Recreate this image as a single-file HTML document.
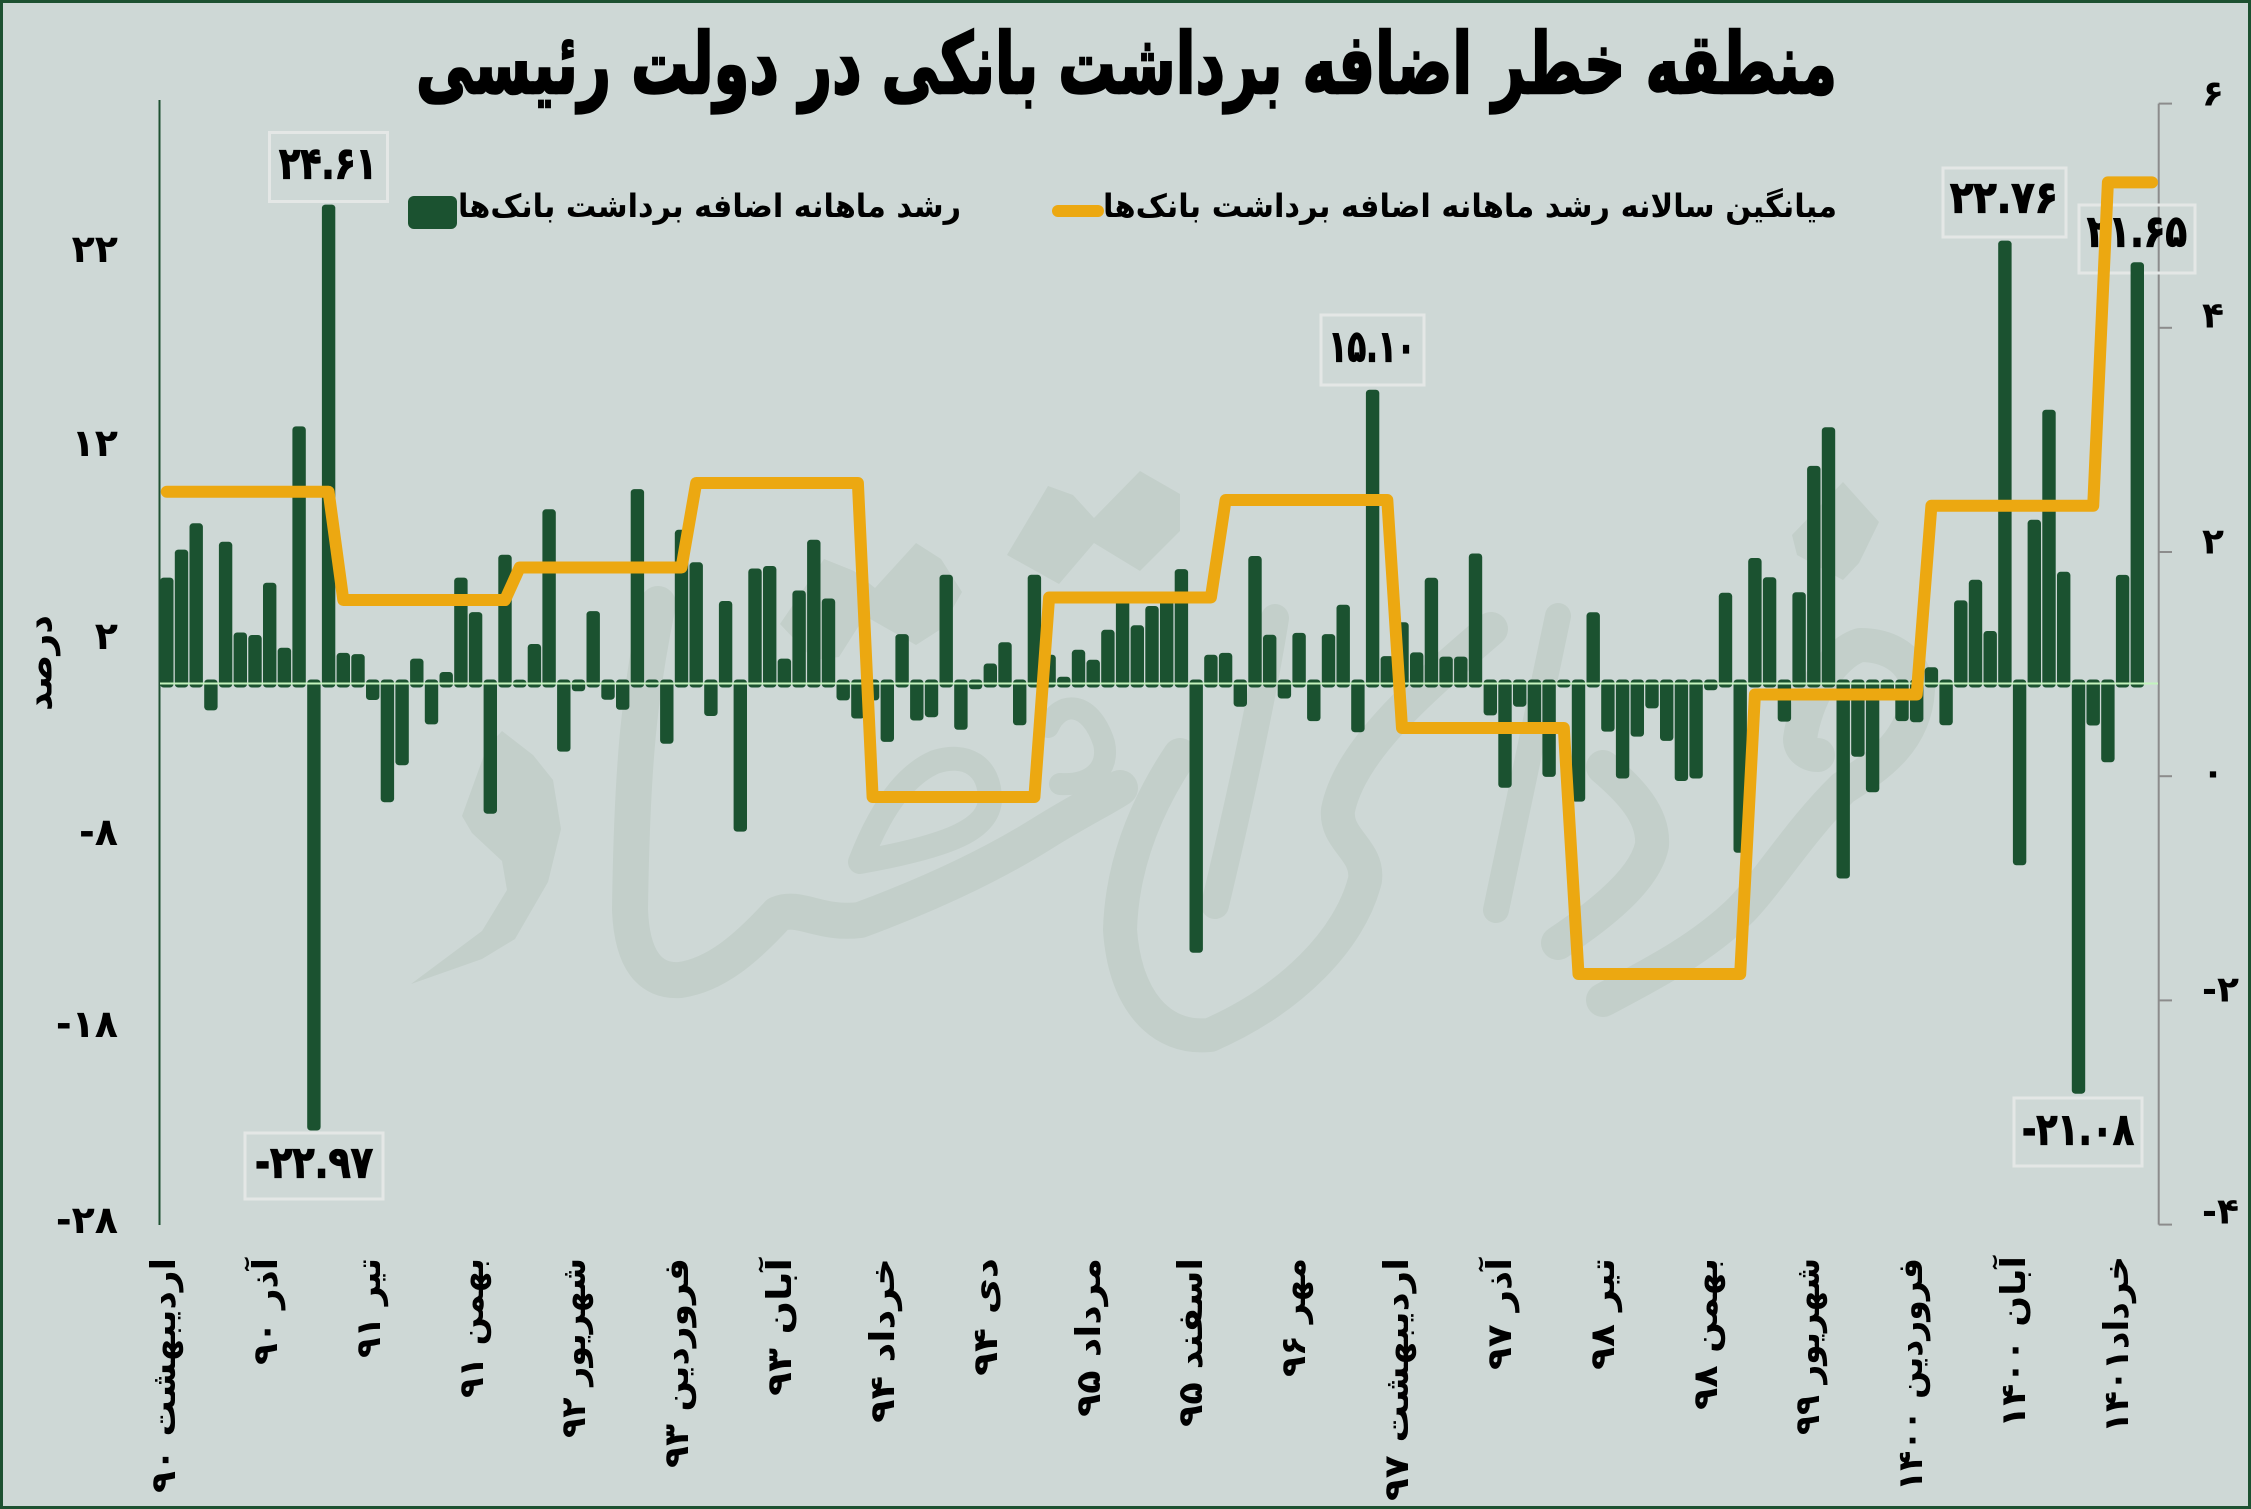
<!DOCTYPE html>
<html><head><meta charset="utf-8"><style>
html,body{margin:0;padding:0;background:#ced8d6;}
svg{display:block;}
text{font-family:"DejaVu Sans","Liberation Sans",sans-serif;font-weight:bold;fill:#000;}
</style></head><body>
<svg width="2251" height="1509" viewBox="0 0 2251 1509" xmlns="http://www.w3.org/2000/svg">
<rect x="0" y="0" width="2251" height="1509" fill="#ced8d6"/>
<!-- watermark -->
<g fill="#c3cfca" stroke="none">
<polygon points="411,984 482,959 515,939 548,882 561,829 553,780 533,755 502,731 487,747 462,816 472,833 502,861 507,890 482,931"/>
<polygon points="1007,555 1048,486 1073,495 1094,518 1140,471 1180,494 1180,531 1140,571 1094,543 1059,584"/>
<polygon points="780,624 824,559 854,571 875,588 916,543 941,559 962,592 941,629 916,645 865,616 839,657 814,660"/>
<polygon points="1792,535 1843,482 1879,522 1859,563 1843,580 1797,555"/>
</g>
<g fill="none" stroke="#c3cfca" stroke-linecap="round" stroke-linejoin="round">
<path d="M658 604 C640 690 632 760 630 910 C632 960 650 982 680 980 C715 975 745 950 778 914 C800 905 820 925 860 920 C941 890 1000 860 1043 833 C1080 810 1105 798 1120 788" stroke-width="36"/>
<path d="M860 862 C880 810 905 775 935 762 C965 752 990 765 990 800 C988 828 955 845 860 862 Z" stroke-width="24"/>
<path d="M1048 727 C1060 700 1090 700 1104 743 C1110 770 1090 786 1060 784" stroke-width="22"/>
<path d="M1491 629 C1420 690 1350 750 1338 810 C1335 840 1369 850 1365 880 C1350 940 1290 1000 1210 1035 C1160 1040 1125 1000 1120 930 C1122 860 1150 800 1180 755" stroke-width="34"/>
<path d="M1275 618 C1262 700 1240 800 1215 905" stroke-width="28"/>
<path d="M1558 616 C1540 700 1520 800 1496 910" stroke-width="26"/>
<path d="M1603 767 C1630 790 1654 815 1652 845 C1645 880 1600 915 1558 943" stroke-width="34"/>
<path d="M1603 1000 C1650 975 1700 950 1741 910 C1770 880 1800 830 1843 788 C1880 765 1915 740 1918 690 C1915 660 1890 645 1860 645 C1830 655 1805 700 1800 739 C1800 750 1810 755 1818 755" stroke-width="34"/>
</g>
<!-- frame -->
<rect x="1.5" y="1.5" width="2248" height="1506" fill="none" stroke="#1d5131" stroke-width="3"/>
<!-- title -->
<text x="1126.5" y="93" font-size="84" text-anchor="middle" textLength="1421" lengthAdjust="spacingAndGlyphs" stroke="#000" stroke-width="2.5">منطقه خطر اضافه برداشت بانکی در دولت رئیسی</text>
<!-- legend -->
<rect x="408" y="196" width="49" height="33" rx="6" fill="#1b5230"/>
<text x="458" y="217" font-size="32" textLength="503" lengthAdjust="spacingAndGlyphs">رشد ماهانه اضافه برداشت بانک‌ها</text>
<line x1="1058" y1="211" x2="1098" y2="211" stroke="#eca811" stroke-width="12" stroke-linecap="round"/>
<text x="1103" y="217" font-size="32" textLength="734" lengthAdjust="spacingAndGlyphs">میانگین سالانه رشد ماهانه اضافه برداشت بانک‌ها</text>
<!-- axes -->
<line x1="159.5" y1="100" x2="159.5" y2="1225" stroke="#1d5131" stroke-width="2"/>
<g stroke="#8c8c8c" stroke-width="2">
<line x1="2158.7" y1="103.6" x2="2158.7" y2="1224.6"/>
<line x1="2158.7" y1="103.6" x2="2172" y2="103.6"/>
<line x1="2158.7" y1="327.8" x2="2172" y2="327.8"/>
<line x1="2158.7" y1="552" x2="2172" y2="552"/>
<line x1="2158.7" y1="776.2" x2="2172" y2="776.2"/>
<line x1="2158.7" y1="1000.4" x2="2172" y2="1000.4"/>
<line x1="2158.7" y1="1224.6" x2="2172" y2="1224.6"/>
</g>
<g font-size="38" text-anchor="end" dominant-baseline="central">
<text x="118" y="249">۲۲</text>
<text x="118" y="443">۱۲</text>
<text x="118" y="636">۲</text>
<text x="118" y="832">-۸</text>
<text x="118" y="1024">-۱۸</text>
<text x="118" y="1220">-۲۸</text>
</g>
<g font-size="36" text-anchor="start" dominant-baseline="central">
<text x="2202" y="94">۶</text>
<text x="2202" y="316">۴</text>
<text x="2202" y="542">۲</text>
<text x="2202" y="773">۰</text>
<text x="2202" y="990">-۲</text>
<text x="2202" y="1212">-۴</text>
</g>
<text transform="translate(40,663) rotate(-90)" font-size="36" text-anchor="middle" dominant-baseline="central" textLength="96" lengthAdjust="spacingAndGlyphs">درصد</text>
<!-- data label boxes -->
<g fill="none" stroke="#e4e7e6" stroke-width="3">
<rect x="269.5" y="132.5" width="118" height="69"/>
<rect x="245" y="1133" width="138" height="66"/>
<rect x="1321" y="315" width="103" height="70"/>
<rect x="1943" y="168" width="123" height="69"/>
<rect x="2079" y="205" width="116" height="68"/>
<rect x="2014" y="1098" width="128" height="68"/>
</g>
<g font-size="44" text-anchor="middle" dominant-baseline="central" stroke="#000" stroke-width="1.2">
<text x="328" y="164" textLength="98" lengthAdjust="spacingAndGlyphs">۲۴.۶۱</text>
<text x="314" y="1163" textLength="118" lengthAdjust="spacingAndGlyphs">-۲۲.۹۷</text>
<text x="1372" y="347" textLength="87" lengthAdjust="spacingAndGlyphs">۱۵.۱۰</text>
<text x="2004" y="198" textLength="108" lengthAdjust="spacingAndGlyphs">۲۲.۷۶</text>
<text x="2137" y="232" textLength="100" lengthAdjust="spacingAndGlyphs">۲۱.۶۵</text>
<text x="2078" y="1130" textLength="112" lengthAdjust="spacingAndGlyphs">-۲۱.۰۸</text>
</g>
<!-- bars -->
<g fill="#1b5230">
<rect x="160.1" y="577.6" width="13.4" height="109.9" rx="3.5"/>
<rect x="174.8" y="549.6" width="13.4" height="137.9" rx="3.5"/>
<rect x="189.5" y="523.3" width="13.4" height="164.2" rx="3.5"/>
<rect x="204.2" y="679.5" width="13.4" height="30.9" rx="3.5"/>
<rect x="218.9" y="541.8" width="13.4" height="145.7" rx="3.5"/>
<rect x="233.6" y="632.5" width="13.4" height="55.0" rx="3.5"/>
<rect x="248.3" y="635.0" width="13.4" height="52.5" rx="3.5"/>
<rect x="263.0" y="582.7" width="13.4" height="104.8" rx="3.5"/>
<rect x="277.7" y="647.7" width="13.4" height="39.8" rx="3.5"/>
<rect x="292.4" y="426.4" width="13.4" height="261.1" rx="3.5"/>
<rect x="307.2" y="679.5" width="13.4" height="451.0" rx="3.5"/>
<rect x="321.9" y="204.6" width="13.4" height="482.9" rx="3.5"/>
<rect x="336.6" y="652.9" width="13.4" height="34.6" rx="3.5"/>
<rect x="351.3" y="654.1" width="13.4" height="33.4" rx="3.5"/>
<rect x="366.0" y="679.5" width="13.4" height="20.5" rx="3.5"/>
<rect x="380.7" y="679.5" width="13.4" height="122.7" rx="3.5"/>
<rect x="395.4" y="679.5" width="13.4" height="85.7" rx="3.5"/>
<rect x="410.1" y="658.6" width="13.4" height="28.9" rx="3.5"/>
<rect x="424.8" y="679.5" width="13.4" height="44.9" rx="3.5"/>
<rect x="439.5" y="672.0" width="13.4" height="15.5" rx="3.5"/>
<rect x="454.2" y="577.6" width="13.4" height="109.9" rx="3.5"/>
<rect x="468.9" y="612.1" width="13.4" height="75.4" rx="3.5"/>
<rect x="483.6" y="679.5" width="13.4" height="134.2" rx="3.5"/>
<rect x="498.3" y="554.7" width="13.4" height="132.8" rx="3.5"/>
<rect x="513.0" y="679.6" width="13.4" height="7.9" rx="3.5"/>
<rect x="527.7" y="644.0" width="13.4" height="43.5" rx="3.5"/>
<rect x="542.4" y="509.3" width="13.4" height="178.2" rx="3.5"/>
<rect x="557.1" y="679.5" width="13.4" height="72.1" rx="3.5"/>
<rect x="571.8" y="679.5" width="13.4" height="11.8" rx="3.5"/>
<rect x="586.5" y="611.1" width="13.4" height="76.4" rx="3.5"/>
<rect x="601.3" y="679.5" width="13.4" height="20.2" rx="3.5"/>
<rect x="616.0" y="679.5" width="13.4" height="30.3" rx="3.5"/>
<rect x="630.7" y="489.1" width="13.4" height="198.4" rx="3.5"/>
<rect x="645.4" y="679.5" width="13.4" height="7.9" rx="3.5"/>
<rect x="660.1" y="679.5" width="13.4" height="64.3" rx="3.5"/>
<rect x="674.8" y="529.8" width="13.4" height="157.7" rx="3.5"/>
<rect x="689.5" y="562.3" width="13.4" height="125.2" rx="3.5"/>
<rect x="704.2" y="679.5" width="13.4" height="36.5" rx="3.5"/>
<rect x="718.9" y="601.0" width="13.4" height="86.5" rx="3.5"/>
<rect x="733.6" y="679.5" width="13.4" height="152.1" rx="3.5"/>
<rect x="748.3" y="568.5" width="13.4" height="119.0" rx="3.5"/>
<rect x="763.0" y="566.0" width="13.4" height="121.5" rx="3.5"/>
<rect x="777.7" y="658.6" width="13.4" height="28.9" rx="3.5"/>
<rect x="792.4" y="590.5" width="13.4" height="97.0" rx="3.5"/>
<rect x="807.1" y="539.7" width="13.4" height="147.8" rx="3.5"/>
<rect x="821.8" y="598.5" width="13.4" height="89.0" rx="3.5"/>
<rect x="836.5" y="679.5" width="13.4" height="20.9" rx="3.5"/>
<rect x="851.2" y="679.5" width="13.4" height="39.0" rx="3.5"/>
<rect x="865.9" y="679.5" width="13.4" height="20.9" rx="3.5"/>
<rect x="880.6" y="679.5" width="13.4" height="62.4" rx="3.5"/>
<rect x="895.4" y="634.1" width="13.4" height="53.4" rx="3.5"/>
<rect x="910.1" y="679.5" width="13.4" height="41.0" rx="3.5"/>
<rect x="924.8" y="679.5" width="13.4" height="37.7" rx="3.5"/>
<rect x="939.5" y="574.7" width="13.4" height="112.8" rx="3.5"/>
<rect x="954.2" y="679.5" width="13.4" height="50.3" rx="3.5"/>
<rect x="968.9" y="679.5" width="13.4" height="9.8" rx="3.5"/>
<rect x="983.6" y="663.5" width="13.4" height="24.0" rx="3.5"/>
<rect x="998.3" y="642.2" width="13.4" height="45.3" rx="3.5"/>
<rect x="1013.0" y="679.5" width="13.4" height="45.8" rx="3.5"/>
<rect x="1027.7" y="574.7" width="13.4" height="112.8" rx="3.5"/>
<rect x="1042.4" y="654.7" width="13.4" height="32.8" rx="3.5"/>
<rect x="1057.1" y="676.7" width="13.4" height="10.8" rx="3.5"/>
<rect x="1071.8" y="649.8" width="13.4" height="37.7" rx="3.5"/>
<rect x="1086.5" y="659.8" width="13.4" height="27.7" rx="3.5"/>
<rect x="1101.2" y="629.8" width="13.4" height="57.7" rx="3.5"/>
<rect x="1115.9" y="599.8" width="13.4" height="87.7" rx="3.5"/>
<rect x="1130.6" y="625.3" width="13.4" height="62.2" rx="3.5"/>
<rect x="1145.3" y="606.0" width="13.4" height="81.5" rx="3.5"/>
<rect x="1160.0" y="595.9" width="13.4" height="91.6" rx="3.5"/>
<rect x="1174.7" y="569.1" width="13.4" height="118.4" rx="3.5"/>
<rect x="1189.5" y="679.5" width="13.4" height="273.3" rx="3.5"/>
<rect x="1204.2" y="654.7" width="13.4" height="32.8" rx="3.5"/>
<rect x="1218.9" y="652.9" width="13.4" height="34.6" rx="3.5"/>
<rect x="1233.6" y="679.5" width="13.4" height="27.2" rx="3.5"/>
<rect x="1248.3" y="556.0" width="13.4" height="131.5" rx="3.5"/>
<rect x="1263.0" y="634.8" width="13.4" height="52.7" rx="3.5"/>
<rect x="1277.7" y="679.5" width="13.4" height="19.0" rx="3.5"/>
<rect x="1292.4" y="632.9" width="13.4" height="54.6" rx="3.5"/>
<rect x="1307.1" y="679.5" width="13.4" height="41.6" rx="3.5"/>
<rect x="1321.8" y="634.1" width="13.4" height="53.4" rx="3.5"/>
<rect x="1336.5" y="604.7" width="13.4" height="82.8" rx="3.5"/>
<rect x="1351.2" y="679.5" width="13.4" height="52.7" rx="3.5"/>
<rect x="1365.9" y="389.7" width="13.4" height="297.8" rx="3.5"/>
<rect x="1380.6" y="656.1" width="13.4" height="31.4" rx="3.5"/>
<rect x="1395.3" y="622.2" width="13.4" height="65.3" rx="3.5"/>
<rect x="1410.0" y="652.4" width="13.4" height="35.1" rx="3.5"/>
<rect x="1424.7" y="577.8" width="13.4" height="109.7" rx="3.5"/>
<rect x="1439.4" y="656.6" width="13.4" height="30.9" rx="3.5"/>
<rect x="1454.1" y="656.6" width="13.4" height="30.9" rx="3.5"/>
<rect x="1468.8" y="553.5" width="13.4" height="134.0" rx="3.5"/>
<rect x="1483.6" y="679.5" width="13.4" height="35.9" rx="3.5"/>
<rect x="1498.3" y="679.5" width="13.4" height="108.3" rx="3.5"/>
<rect x="1513.0" y="679.5" width="13.4" height="27.2" rx="3.5"/>
<rect x="1527.7" y="679.5" width="13.4" height="48.8" rx="3.5"/>
<rect x="1542.4" y="679.5" width="13.4" height="97.4" rx="3.5"/>
<rect x="1557.1" y="679.5" width="13.4" height="8.0" rx="3.5"/>
<rect x="1571.8" y="679.5" width="13.4" height="122.1" rx="3.5"/>
<rect x="1586.5" y="612.3" width="13.4" height="75.2" rx="3.5"/>
<rect x="1601.2" y="679.5" width="13.4" height="52.1" rx="3.5"/>
<rect x="1615.9" y="679.5" width="13.4" height="99.0" rx="3.5"/>
<rect x="1630.6" y="679.5" width="13.4" height="57.1" rx="3.5"/>
<rect x="1645.3" y="679.5" width="13.4" height="28.9" rx="3.5"/>
<rect x="1660.0" y="679.5" width="13.4" height="61.4" rx="3.5"/>
<rect x="1674.7" y="679.5" width="13.4" height="101.5" rx="3.5"/>
<rect x="1689.4" y="679.5" width="13.4" height="99.0" rx="3.5"/>
<rect x="1704.1" y="679.5" width="13.4" height="10.8" rx="3.5"/>
<rect x="1718.8" y="592.8" width="13.4" height="94.7" rx="3.5"/>
<rect x="1733.5" y="679.5" width="13.4" height="173.3" rx="3.5"/>
<rect x="1748.2" y="558.0" width="13.4" height="129.5" rx="3.5"/>
<rect x="1762.9" y="577.2" width="13.4" height="110.3" rx="3.5"/>
<rect x="1777.7" y="679.5" width="13.4" height="42.1" rx="3.5"/>
<rect x="1792.4" y="592.2" width="13.4" height="95.3" rx="3.5"/>
<rect x="1807.1" y="465.9" width="13.4" height="221.6" rx="3.5"/>
<rect x="1821.8" y="427.2" width="13.4" height="260.3" rx="3.5"/>
<rect x="1836.5" y="679.5" width="13.4" height="199.0" rx="3.5"/>
<rect x="1851.2" y="679.5" width="13.4" height="77.2" rx="3.5"/>
<rect x="1865.9" y="679.5" width="13.4" height="112.8" rx="3.5"/>
<rect x="1880.6" y="679.5" width="13.4" height="13.7" rx="3.5"/>
<rect x="1895.3" y="679.5" width="13.4" height="41.6" rx="3.5"/>
<rect x="1910.0" y="679.5" width="13.4" height="42.7" rx="3.5"/>
<rect x="1924.7" y="667.3" width="13.4" height="20.2" rx="3.5"/>
<rect x="1939.4" y="679.5" width="13.4" height="45.8" rx="3.5"/>
<rect x="1954.1" y="600.4" width="13.4" height="87.1" rx="3.5"/>
<rect x="1968.8" y="579.8" width="13.4" height="107.7" rx="3.5"/>
<rect x="1983.5" y="631.0" width="13.4" height="56.5" rx="3.5"/>
<rect x="1998.2" y="240.6" width="13.4" height="446.9" rx="3.5"/>
<rect x="2012.9" y="679.5" width="13.4" height="185.8" rx="3.5"/>
<rect x="2027.6" y="519.8" width="13.4" height="167.7" rx="3.5"/>
<rect x="2042.3" y="409.7" width="13.4" height="277.8" rx="3.5"/>
<rect x="2057.0" y="571.8" width="13.4" height="115.7" rx="3.5"/>
<rect x="2071.8" y="679.5" width="13.4" height="414.2" rx="3.5"/>
<rect x="2086.5" y="679.5" width="13.4" height="46.0" rx="3.5"/>
<rect x="2101.2" y="679.5" width="13.4" height="82.8" rx="3.5"/>
<rect x="2115.9" y="574.9" width="13.4" height="112.6" rx="3.5"/>
<rect x="2130.6" y="262.2" width="13.4" height="425.3" rx="3.5"/>
</g>
<!-- zero line -->
<line x1="160" y1="683.5" x2="2158" y2="683.5" stroke="#c4f3bd" stroke-width="2"/>
<!-- annual average line -->
<polyline fill="none" stroke="#eca811" stroke-width="12" stroke-linejoin="round" stroke-linecap="round"
points="166.8,491.8 328.6,491.8 343.3,600 505.0,600 519.7,567.5 681.5,567.5 696.2,483 857.9,483 872.6,797 1034.4,797 1049.1,597.5 1210.9,597.5 1225.6,500 1387.3,500 1402.0,728 1563.8,728 1578.5,974 1740.2,974 1754.9,694.5 1916.7,694.5 1931.4,505.8 2093.2,505.8 2107.9,182.4 2152,182.4"/>
<!-- x labels -->
<g font-size="34" text-anchor="end" dominant-baseline="central">
<text transform="translate(164,1258) rotate(-90)" textLength="235" lengthAdjust="spacingAndGlyphs">اردیبهشت ۹۰</text>
<text transform="translate(266,1258) rotate(-90)" textLength="107" lengthAdjust="spacingAndGlyphs">آذر ۹۰</text>
<text transform="translate(369,1258) rotate(-90)" textLength="100" lengthAdjust="spacingAndGlyphs">تیر ۹۱</text>
<text transform="translate(472,1258) rotate(-90)" textLength="140" lengthAdjust="spacingAndGlyphs">بهمن ۹۱</text>
<text transform="translate(574,1258) rotate(-90)" textLength="180" lengthAdjust="spacingAndGlyphs">شهریور ۹۲</text>
<text transform="translate(677,1258) rotate(-90)" textLength="210" lengthAdjust="spacingAndGlyphs">فروردین ۹۳</text>
<text transform="translate(780,1258) rotate(-90)" textLength="138" lengthAdjust="spacingAndGlyphs">آبان ۹۳</text>
<text transform="translate(883,1258) rotate(-90)" textLength="165" lengthAdjust="spacingAndGlyphs">خرداد ۹۴</text>
<text transform="translate(986,1258) rotate(-90)" textLength="118" lengthAdjust="spacingAndGlyphs">دی ۹۴</text>
<text transform="translate(1089,1258) rotate(-90)" textLength="159" lengthAdjust="spacingAndGlyphs">مرداد ۹۵</text>
<text transform="translate(1191,1258) rotate(-90)" textLength="169" lengthAdjust="spacingAndGlyphs">اسفند ۹۵</text>
<text transform="translate(1294,1258) rotate(-90)" textLength="119" lengthAdjust="spacingAndGlyphs">مهر ۹۶</text>
<text transform="translate(1397,1258) rotate(-90)" textLength="243" lengthAdjust="spacingAndGlyphs">اردیبهشت ۹۷</text>
<text transform="translate(1500,1258) rotate(-90)" textLength="112" lengthAdjust="spacingAndGlyphs">آذر ۹۷</text>
<text transform="translate(1603,1258) rotate(-90)" textLength="112" lengthAdjust="spacingAndGlyphs">تیر ۹۸</text>
<text transform="translate(1706,1258) rotate(-90)" textLength="152" lengthAdjust="spacingAndGlyphs">بهمن ۹۸</text>
<text transform="translate(1808,1258) rotate(-90)" textLength="177" lengthAdjust="spacingAndGlyphs">شهریور ۹۹</text>
<text transform="translate(1911,1258) rotate(-90)" textLength="233" lengthAdjust="spacingAndGlyphs">فروردین ۱۴۰۰</text>
<text transform="translate(2014,1256) rotate(-90)" textLength="172" lengthAdjust="spacingAndGlyphs">آبان ۱۴۰۰</text>
<text transform="translate(2117,1256) rotate(-90)" textLength="177" lengthAdjust="spacingAndGlyphs">خرداد۱۴۰۱</text>
</g>
</svg>
</body></html>
